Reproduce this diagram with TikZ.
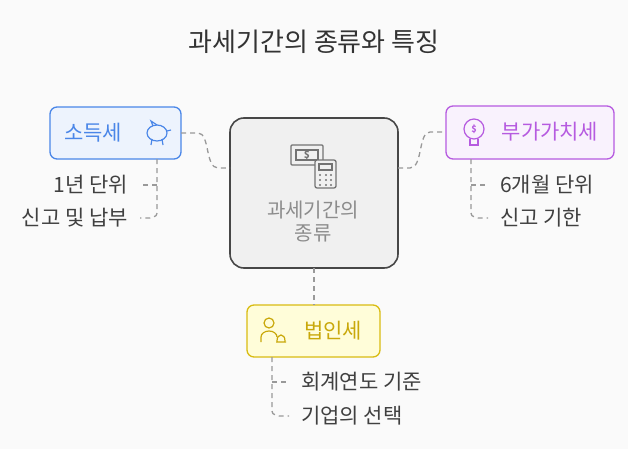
\documentclass[tikz,border=0pt]{standalone}
\usepackage{fontspec}
\setmainfont{Noto Sans CJK KR}
\definecolor{cb}{HTML}{4A86E8}
\definecolor{cp}{HTML}{B65BE0}
\definecolor{cy}{HTML}{D9BC12}
\definecolor{cyt}{HTML}{C9A80A}
\begin{document}
\begin{tikzpicture}[x=1pt,y=-1pt,
  conn/.style={draw=gray!80,line width=1.3pt,dash pattern=on 5pt off 4pt},
  sub/.style={conn,shorten >=10pt},
  lbl/.style={font=\fontsize{21}{25}\selectfont,text=black!75,inner sep=2pt},
  box/.style={rounded corners=7pt,line width=1.3pt}]
\fill[black!2] (0,0) rectangle (628,449);
\useasboundingbox (0,0) rectangle (628,449);
\node[font=\fontsize{26}{30}\selectfont,text=black!80] (title) at (314,42) {과세기간의 종류와 특징};
% center
\draw[box,rounded corners=14pt,fill=black!6,draw=black!72,line width=1.6pt] (230,118) rectangle (398,268);
\coordinate (cl) at (230,168); \coordinate (cr) at (398,168);
\coordinate (cb) at (314,268);
\node[font=\fontsize{20}{23}\selectfont,text=black!45,align=center] (ct) at (313,222) {과세기간의\\종류};
% center icon
\begin{scope}[draw=black!55,line width=1.3pt]
\draw[rounded corners=1pt] (291,145) rectangle (323,165);
\draw (296,150) rectangle (318,160);
\node[font=\bfseries\fontsize{10}{10}\selectfont,text=black!55] (dl) at (307,155) {\$};
\draw[fill=black!6,rounded corners=2pt] (315,160) rectangle (336,188);
\draw (319,164) rectangle (332,170);
\foreach \x in {320,326,331}{\foreach \y in {175,180,185}{\fill[black!55] (\x,\y) circle (1.2pt);}}
\end{scope}
% 소득세
\draw[box,fill=cb!10,draw=cb] (50,107) rectangle (181,159);
\coordinate (sl) at (181,133);
\node[lbl,text=cb] (s) at (93,133) {소득세};
\begin{scope}[draw=cb,line width=1.2pt]
\draw (157,133) ellipse (10pt and 8pt);
\draw (152,139) -- (151,145) (162,139)--(163,145) (167,131)--(171,130);
\draw (153,126) -- (151,121) -- (157,125);
\end{scope}
% 부가가치세
\draw[box,fill=cp!8,draw=cp] (446,106) rectangle (614,159);
\coordinate (bl) at (446,132);
\node[lbl,text=cp] (b) at (550,132) {부가가치세};
\begin{scope}[draw=cp,line width=1.2pt]
\draw (474,129) circle (10pt);
\draw (470,139) -- (470,145) -- (478,145) -- (478,139);
\node[font=\bfseries\fontsize{9}{9}\selectfont,text=cp] (bd) at (474,129) {\$};
\end{scope}
% 법인세
\draw[box,fill=yellow!15,draw=cy] (247,305) rectangle (380,357);
\coordinate (lt) at (314,305);
\node[lbl,text=cyt] (l) at (333,331) {법인세};
\begin{scope}[draw=cyt,line width=1.2pt]
\draw (269,323) circle (5pt);
\draw (261,342) -- (261,337) arc (180:0:8pt and 6pt);
\draw (276,342) -- (286,342) (277,341) .. controls (277,333) and (285,333) .. (285,341);
\end{scope}
% main connectors
\draw[conn] (sl) -- (198,133) .. controls (210,133) and (205,168) .. (218,168) -- (cl);
\draw[conn] (cb) -- (lt);
\draw[conn] (cr) -- (410,168) .. controls (423,168) and (418,132) .. (430,132) -- (bl);
% sub items
\node[lbl,anchor=east] (s1) at (130,185) {1년 단위};
\node[lbl,anchor=east] (s2) at (130,218) {신고 및 납부};
\draw[sub] (157,159) -- (157,210) .. controls (157,216) .. (150,218) -- (s2.east);
\draw[sub] (157,185) -- (s1.east);
\node[lbl,anchor=west] (b1) at (498,185) {6개월 단위};
\node[lbl,anchor=west] (b2) at (498,218) {신고 기한};
\draw[sub] (471,159) -- (471,210) .. controls (471,216) .. (478,218) -- (b2.west);
\draw[sub] (471,185) -- (b1.west);
\node[lbl,anchor=west] (l1) at (299,382) {회계연도 기준};
\node[lbl,anchor=west] (l2) at (299,416) {기업의 선택};
\draw[sub] (272,357) -- (272,408) .. controls (272,414) .. (279,416) -- (l2.west);
\draw[sub] (272,382) -- (l1.west);
\end{tikzpicture}
\end{document}
